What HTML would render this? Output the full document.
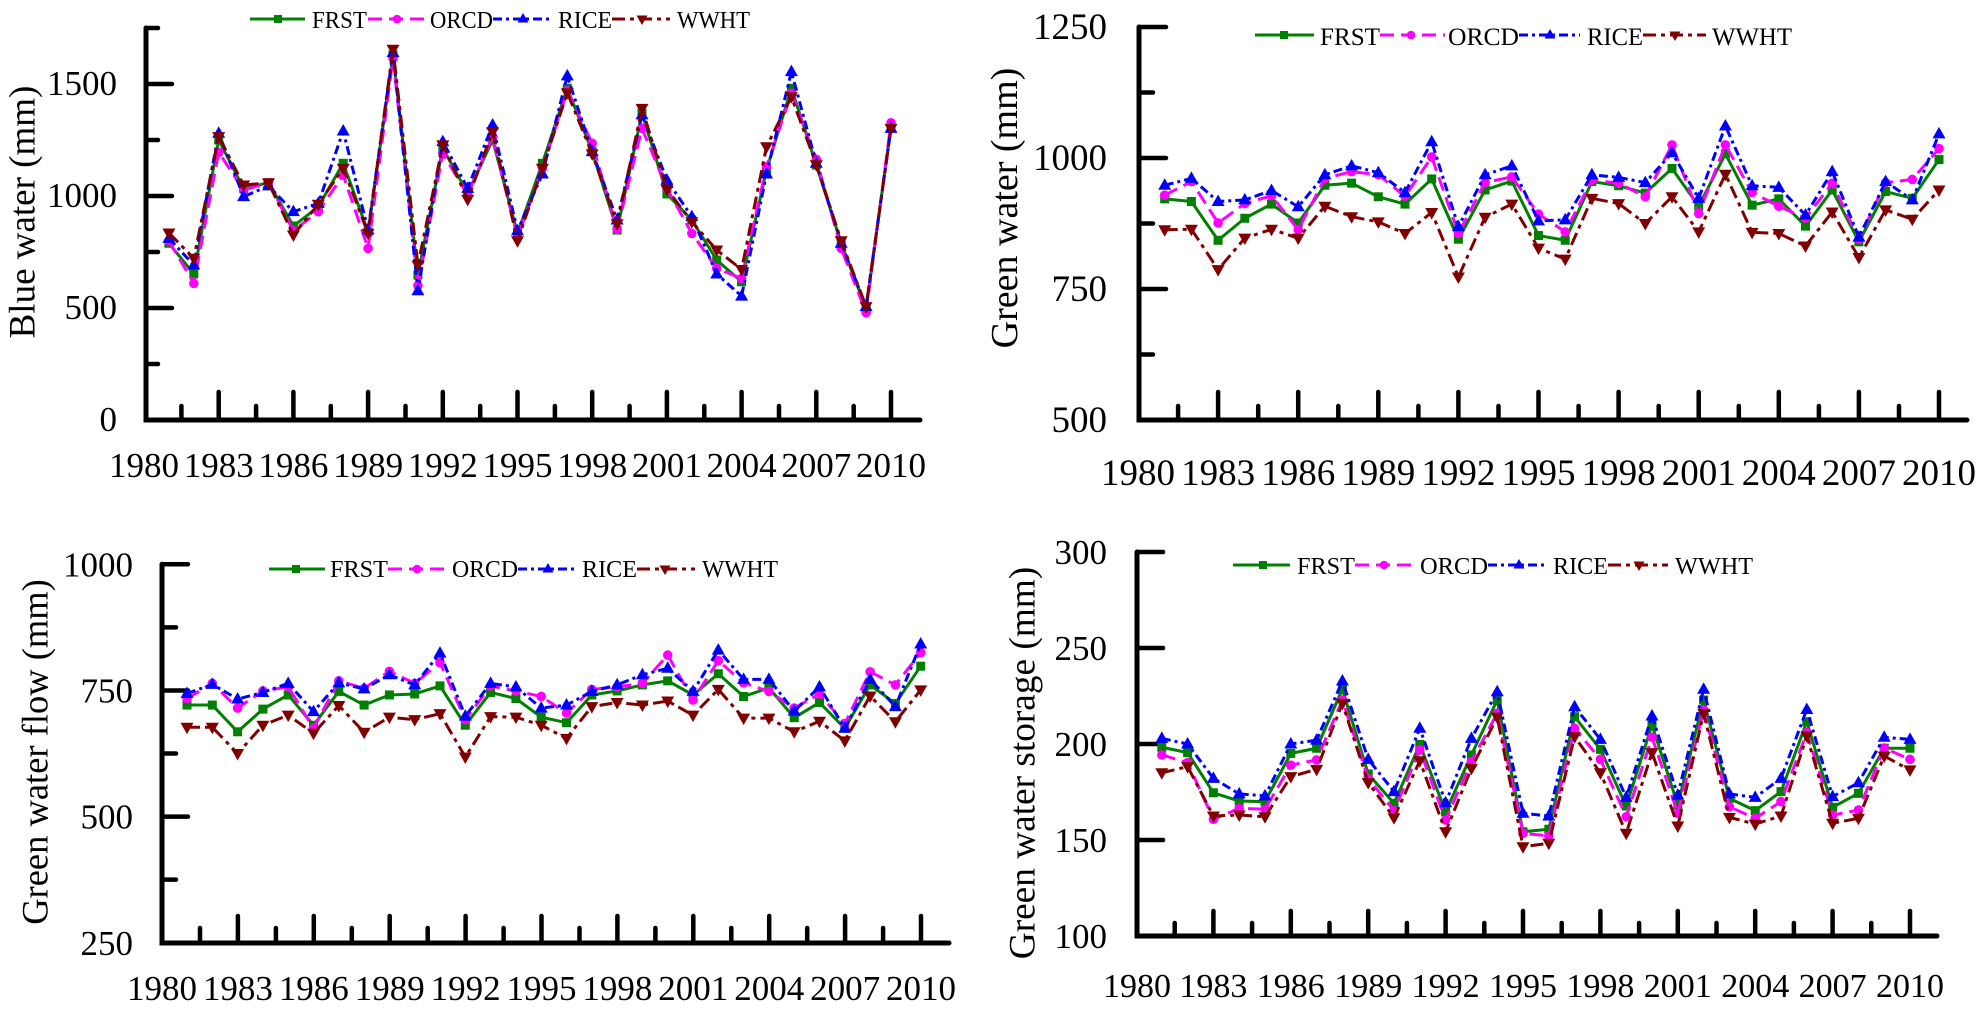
<!DOCTYPE html>
<html><head><meta charset="utf-8"><style>
body{margin:0;background:#fff}
svg{display:block}
.ax{fill:none;stroke:#000;stroke-width:5;stroke-linecap:round;stroke-linejoin:miter}
.tk{fill:none;stroke:#000;stroke-width:4.5;stroke-linecap:round}
.f{fill:none;stroke:#008000;stroke-width:3;stroke-linejoin:round}
.o{fill:none;stroke:#ff00ff;stroke-width:3;stroke-dasharray:14 7;stroke-linejoin:round}
.r{fill:none;stroke:#0000ff;stroke-width:3;stroke-dasharray:9 4 3 4;stroke-linejoin:round}
.w{fill:none;stroke:#800000;stroke-width:3;stroke-dasharray:13 5 4 5;stroke-linejoin:round}
.n{fill:none;stroke:none}
text{font-family:"Liberation Serif","Times New Roman",serif;fill:#000}
</style></head><body>
<svg width="1984" height="1012" viewBox="0 0 1984 1012">
<defs>
<marker id="s1" markerUnits="userSpaceOnUse" markerWidth="1" markerHeight="1" refX="0" refY="0" orient="0" overflow="visible"><g transform="scale(0.040161,-4.464286)"><rect x="-4.5" y="-4.5" width="9" height="9" fill="#008000"/></g></marker>
<marker id="c1" markerUnits="userSpaceOnUse" markerWidth="1" markerHeight="1" refX="0" refY="0" orient="0" overflow="visible"><g transform="scale(0.040161,-4.464286)"><circle r="4.8" fill="#ff00ff"/></g></marker>
<marker id="u1" markerUnits="userSpaceOnUse" markerWidth="1" markerHeight="1" refX="0" refY="0" orient="0" overflow="visible"><g transform="scale(0.040161,-4.464286)"><polygon points="0,-7 6.5,4.5 -6.5,4.5" fill="#0000ff"/></g></marker>
<marker id="d1" markerUnits="userSpaceOnUse" markerWidth="1" markerHeight="1" refX="0" refY="0" orient="0" overflow="visible"><g transform="scale(0.040161,-4.464286)"><polygon points="0,7 6.5,-4.5 -6.5,-4.5" fill="#800000"/></g></marker>

<marker id="s2" markerUnits="userSpaceOnUse" markerWidth="1" markerHeight="1" refX="0" refY="0" orient="0" overflow="visible"><g transform="scale(0.037453,-1.908397)"><rect x="-4.5" y="-4.5" width="9" height="9" fill="#008000"/></g></marker>
<marker id="c2" markerUnits="userSpaceOnUse" markerWidth="1" markerHeight="1" refX="0" refY="0" orient="0" overflow="visible"><g transform="scale(0.037453,-1.908397)"><circle r="4.8" fill="#ff00ff"/></g></marker>
<marker id="u2" markerUnits="userSpaceOnUse" markerWidth="1" markerHeight="1" refX="0" refY="0" orient="0" overflow="visible"><g transform="scale(0.037453,-1.908397)"><polygon points="0,-7 6.5,4.5 -6.5,4.5" fill="#0000ff"/></g></marker>
<marker id="d2" markerUnits="userSpaceOnUse" markerWidth="1" markerHeight="1" refX="0" refY="0" orient="0" overflow="visible"><g transform="scale(0.037453,-1.908397)"><polygon points="0,7 6.5,-4.5 -6.5,-4.5" fill="#800000"/></g></marker>

<marker id="s3" markerUnits="userSpaceOnUse" markerWidth="1" markerHeight="1" refX="0" refY="0" orient="0" overflow="visible"><g transform="scale(0.039526,-1.982161)"><rect x="-4.5" y="-4.5" width="9" height="9" fill="#008000"/></g></marker>
<marker id="c3" markerUnits="userSpaceOnUse" markerWidth="1" markerHeight="1" refX="0" refY="0" orient="0" overflow="visible"><g transform="scale(0.039526,-1.982161)"><circle r="4.8" fill="#ff00ff"/></g></marker>
<marker id="u3" markerUnits="userSpaceOnUse" markerWidth="1" markerHeight="1" refX="0" refY="0" orient="0" overflow="visible"><g transform="scale(0.039526,-1.982161)"><polygon points="0,-7 6.5,4.5 -6.5,4.5" fill="#0000ff"/></g></marker>
<marker id="d3" markerUnits="userSpaceOnUse" markerWidth="1" markerHeight="1" refX="0" refY="0" orient="0" overflow="visible"><g transform="scale(0.039526,-1.982161)"><polygon points="0,7 6.5,-4.5 -6.5,-4.5" fill="#800000"/></g></marker>

<marker id="s4" markerUnits="userSpaceOnUse" markerWidth="1" markerHeight="1" refX="0" refY="0" orient="0" overflow="visible"><g transform="scale(0.03876,-0.520833)"><rect x="-4.5" y="-4.5" width="9" height="9" fill="#008000"/></g></marker>
<marker id="c4" markerUnits="userSpaceOnUse" markerWidth="1" markerHeight="1" refX="0" refY="0" orient="0" overflow="visible"><g transform="scale(0.03876,-0.520833)"><circle r="4.8" fill="#ff00ff"/></g></marker>
<marker id="u4" markerUnits="userSpaceOnUse" markerWidth="1" markerHeight="1" refX="0" refY="0" orient="0" overflow="visible"><g transform="scale(0.03876,-0.520833)"><polygon points="0,-7 6.5,4.5 -6.5,4.5" fill="#0000ff"/></g></marker>
<marker id="d4" markerUnits="userSpaceOnUse" markerWidth="1" markerHeight="1" refX="0" refY="0" orient="0" overflow="visible"><g transform="scale(0.03876,-0.520833)"><polygon points="0,7 6.5,-4.5 -6.5,-4.5" fill="#800000"/></g></marker>
</defs>

<!-- ================= PANEL 1 : Blue water ================= -->
<path class="ax" d="M920,420 H146 V28"/>
<path class="tk" d="M146,308h26M146,196h26M146,84h26M146,364h12M146,252h12M146,140h12M146,28h12"/>
<path class="tk" d="M218.7,420v-28M293.4,420v-28M368.1,420v-28M442.8,420v-28M517.5,420v-28M592.2,420v-28M666.9,420v-28M741.6,420v-28M816.3,420v-28M891,420v-28
M181.4,420v-14M256.1,420v-14M330.8,420v-14M405.5,420v-14M480.2,420v-14M554.9,420v-14M629.6,420v-14M704.3,420v-14M779,420v-14M853.7,420v-14"/>
<g font-size="35" text-anchor="end">
<text x="117" y="431">0</text><text x="117" y="319">500</text><text x="117" y="207">1000</text><text x="117" y="95">1500</text>
</g>
<g font-size="35" text-anchor="middle">
<text x="144" y="477">1980</text><text x="218.7" y="477">1983</text><text x="293.4" y="477">1986</text><text x="368.1" y="477">1989</text><text x="442.8" y="477">1992</text><text x="517.5" y="477">1995</text><text x="592.2" y="477">1998</text><text x="666.9" y="477">2001</text><text x="741.6" y="477">2004</text><text x="816.3" y="477">2007</text><text x="891" y="477">2010</text>
</g>
<text font-size="37" text-anchor="middle" transform="translate(34.7,212) rotate(-90)">Blue water (mm)</text>

<g transform="translate(144,420) scale(24.9,-0.224)">
<polyline class="f" vector-effect="non-scaling-stroke" points="1,789 2,652 3,1250 4,1034 5,1059 6,866 7,952 8,1146 9,839 10,1630 11,647 12,1213 13,1012 14,1250 15,833 16,1146 17,1481 18,1198 19,848 20,1369 21,1009 22,893 23,714 24,617 25,1116 26,1481 27,1138 28,789 29,497 30,1310"/>
<polyline class="n" marker-start="url(#s1)" marker-mid="url(#s1)" marker-end="url(#s1)" points="1,789 2,652 3,1250 4,1034 5,1059 6,866 7,952 8,1146 9,839 10,1630 11,647 12,1213 13,1012 14,1250 15,833 16,1146 17,1481 18,1198 19,848 20,1369 21,1009 22,893 23,714 24,617 25,1116 26,1481 27,1138 28,789 29,497 30,1310"/>
<polyline class="o" vector-effect="non-scaling-stroke" points="1,800 2,610 3,1195 4,1027 5,1059 6,845 7,930 8,1094 9,766 10,1615 11,600 12,1190 13,1005 14,1265 15,815 16,1124 17,1470 18,1235 19,851 20,1302 21,1034 22,833 23,677 24,632 25,1131 26,1458 27,1164 28,766 29,479 30,1327"/>
<polyline class="n" marker-start="url(#c1)" marker-mid="url(#c1)" marker-end="url(#c1)" points="1,800 2,610 3,1195 4,1027 5,1059 6,845 7,930 8,1094 9,766 10,1615 11,600 12,1190 13,1005 14,1265 15,815 16,1124 17,1470 18,1235 19,851 20,1302 21,1034 22,833 23,677 24,632 25,1131 26,1458 27,1164 28,766 29,479 30,1327"/>
<polyline class="r" vector-effect="non-scaling-stroke" points="1,811 2,692 3,1280 4,997 5,1045 6,930 7,967 8,1290 9,848 10,1640 11,577 12,1243 13,1034 14,1317 15,845 16,1098 17,1536 18,1198 19,893 20,1362 21,1071 22,908 23,652 24,553 25,1098 26,1555 27,1146 28,789 29,506 30,1302"/>
<polyline class="n" marker-start="url(#u1)" marker-mid="url(#u1)" marker-end="url(#u1)" points="1,811 2,692 3,1280 4,997 5,1045 6,930 7,967 8,1290 9,848 10,1640 11,577 12,1243 13,1034 14,1317 15,845 16,1098 17,1536 18,1198 19,893 20,1362 21,1071 22,908 23,652 24,553 25,1098 26,1555 27,1146 28,789 29,506 30,1302"/>
<polyline class="w" vector-effect="non-scaling-stroke" points="1,835 2,722 3,1265 4,1049 5,1059 6,826 7,963 8,1124 9,833 10,1655 11,692 12,1228 13,985 14,1287 15,800 16,1124 17,1461 18,1188 19,876 20,1391 21,1030 22,885 23,759 24,672 25,1220 26,1443 27,1140 28,800 29,506 30,1302"/>
<polyline class="n" marker-start="url(#d1)" marker-mid="url(#d1)" marker-end="url(#d1)" points="1,835 2,722 3,1265 4,1049 5,1059 6,826 7,963 8,1124 9,833 10,1655 11,692 12,1228 13,985 14,1287 15,800 16,1124 17,1461 18,1188 19,876 20,1391 21,1030 22,885 23,759 24,672 25,1220 26,1443 27,1140 28,800 29,506 30,1302"/>
</g>
<!-- legend 1 -->
<g>
<path class="f" d="M250,19H305"/><rect x="274" y="15" width="8" height="8" fill="#008000"/>
<text x="312" y="28" font-size="24" textLength="55" lengthAdjust="spacingAndGlyphs">FRST</text>
<path class="o" d="M368,19H428"/><circle cx="397" cy="19" r="4.3" fill="#ff00ff"/>
<text x="430" y="28" font-size="24" textLength="63" lengthAdjust="spacingAndGlyphs">ORCD</text>
<path class="r" d="M493,19H552"/><polygon points="523,13 528.5,22.5 517.5,22.5" fill="#0000ff"/>
<text x="558" y="28" font-size="24" textLength="54" lengthAdjust="spacingAndGlyphs">RICE</text>
<path class="w" d="M612,19H670"/><polygon points="642,25 647.5,15.5 636.5,15.5" fill="#800000"/>
<text x="677" y="28" font-size="24" textLength="73" lengthAdjust="spacingAndGlyphs">WWHT</text>
</g>

<!-- ================= PANEL 2 : Green water ================= -->
<path class="ax" d="M1967,420 H1139 V27"/>
<path class="tk" d="M1139,289h27M1139,158h27M1139,27h27M1139,354.5h14M1139,223.5h14M1139,92.5h14"/>
<path class="tk" d="M1218.1,420v-28M1298.2,420v-28M1378.3,420v-28M1458.4,420v-28M1538.5,420v-28M1618.6,420v-28M1698.7,420v-28M1778.8,420v-28M1858.9,420v-28M1939,420v-28
M1178.1,420v-14M1258.2,420v-14M1338.3,420v-14M1418.4,420v-14M1498.5,420v-14M1578.6,420v-14M1658.7,420v-14M1738.8,420v-14M1818.9,420v-14M1899,420v-14"/>
<g font-size="37" text-anchor="end">
<text x="1107" y="432">500</text><text x="1107" y="301">750</text><text x="1107" y="170">1000</text><text x="1107" y="39">1250</text>
</g>
<g font-size="37" text-anchor="middle">
<text x="1138" y="485">1980</text><text x="1218.1" y="485">1983</text><text x="1298.2" y="485">1986</text><text x="1378.3" y="485">1989</text><text x="1458.4" y="485">1992</text><text x="1538.5" y="485">1995</text><text x="1618.6" y="485">1998</text><text x="1698.7" y="485">2001</text><text x="1778.8" y="485">2004</text><text x="1858.9" y="485">2007</text><text x="1939" y="485">2010</text>
</g>
<text font-size="38" text-anchor="middle" transform="translate(1017,208) rotate(-90)">Green water (mm)</text>

<g transform="translate(1138,682) scale(26.7,-0.524)">
<polyline class="f" vector-effect="non-scaling-stroke" points="1,922 2,917 3,843 4,885 5,912 6,876 7,948 8,952 9,926 10,912 11,960 12,845 13,939 14,956 15,852 16,843 17,955 18,947 19,933 20,980 21,908 22,1008 23,910 24,922 25,870 26,939 27,840 28,936 29,923 30,997"/>
<polyline class="n" marker-start="url(#s2)" marker-mid="url(#s2)" marker-end="url(#s2)" points="1,922 2,917 3,843 4,885 5,912 6,876 7,948 8,952 9,926 10,912 11,960 12,845 13,939 14,956 15,852 16,843 17,955 18,947 19,933 20,980 21,908 22,1008 23,910 24,922 25,870 26,939 27,840 28,936 29,923 30,997"/>
<polyline class="o" vector-effect="non-scaling-stroke" points="1,929 2,955 3,876 4,913 5,928 6,863 7,961 8,974 9,968 10,927 11,1002 12,856 13,953 14,964 15,893 16,859 17,958 18,952 19,926 20,1025 21,894 22,1025 23,934 24,908 25,885 26,952 27,845 28,953 29,959 30,1018"/>
<polyline class="n" marker-start="url(#c2)" marker-mid="url(#c2)" marker-end="url(#c2)" points="1,929 2,955 3,876 4,913 5,928 6,863 7,961 8,974 9,968 10,927 11,1002 12,856 13,953 14,964 15,893 16,859 17,958 18,952 19,926 20,1025 21,894 22,1025 23,934 24,908 25,885 26,952 27,845 28,953 29,959 30,1018"/>
<polyline class="r" vector-effect="non-scaling-stroke" points="1,948 2,961 3,917 4,920 5,938 6,907 7,968 8,985 9,972 10,934 11,1031 12,869 13,968 14,985 15,880 16,882 17,968 18,963 19,953 20,1010 21,923 22,1061 23,947 24,944 25,891 26,974 27,849 28,955 29,920 30,1046"/>
<polyline class="n" marker-start="url(#u2)" marker-mid="url(#u2)" marker-end="url(#u2)" points="1,948 2,961 3,917 4,920 5,938 6,907 7,968 8,985 9,972 10,934 11,1031 12,869 13,968 14,985 15,880 16,882 17,968 18,963 19,953 20,1010 21,923 22,1061 23,947 24,944 25,891 26,974 27,849 28,955 29,920 30,1046"/>
<polyline class="w" vector-effect="non-scaling-stroke" points="1,863 2,864 3,787 4,847 5,864 6,847 7,908 8,888 9,878 10,856 11,896 12,773 13,887 14,912 15,828 16,807 17,923 18,913 19,875 20,926 21,859 22,969 23,858 24,856 25,832 26,897 27,810 28,901 29,883 30,939"/>
<polyline class="n" marker-start="url(#d2)" marker-mid="url(#d2)" marker-end="url(#d2)" points="1,863 2,864 3,787 4,847 5,864 6,847 7,908 8,888 9,878 10,856 11,896 12,773 13,887 14,912 15,828 16,807 17,923 18,913 19,875 20,926 21,859 22,969 23,858 24,856 25,832 26,897 27,810 28,901 29,883 30,939"/>
</g>
<g>
<path class="f" d="M1255,35H1314"/><rect x="1280" y="31" width="8" height="8" fill="#008000"/>
<text x="1320" y="45" font-size="25" textLength="60" lengthAdjust="spacingAndGlyphs">FRST</text>
<path class="o" d="M1380,35H1445"/><circle cx="1411" cy="35" r="4.3" fill="#ff00ff"/>
<text x="1448" y="45" font-size="25" textLength="71" lengthAdjust="spacingAndGlyphs">ORCD</text>
<path class="r" d="M1519,35H1580"/><polygon points="1550,29 1555.5,38.5 1544.5,38.5" fill="#0000ff"/>
<text x="1587" y="45" font-size="25" textLength="56" lengthAdjust="spacingAndGlyphs">RICE</text>
<path class="w" d="M1643,35H1706"/><polygon points="1675,41 1680.5,31.5 1669.5,31.5" fill="#800000"/>
<text x="1712" y="45" font-size="25" textLength="80" lengthAdjust="spacingAndGlyphs">WWHT</text>
</g>

<!-- ================= PANEL 3 : Green water flow ================= -->
<path class="ax" d="M949,943 H162 V564.3"/>
<path class="tk" d="M162,816.6h26M162,690.5h26M162,564.3h26M162,879.6h14M162,753.5h14M162,627.4h14"/>
<path class="tk" d="M237.9,943v-27M313.8,943v-27M389.7,943v-27M465.6,943v-27M541.5,943v-27M617.4,943v-27M693.3,943v-27M769.2,943v-27M845.1,943v-27M921,943v-27
M200,943v-15M275.9,943v-15M351.8,943v-15M427.7,943v-15M503.6,943v-15M579.5,943v-15M655.4,943v-15M731.3,943v-15M807.2,943v-15M883.1,943v-15"/>
<g font-size="35" text-anchor="end">
<text x="133" y="955">250</text><text x="133" y="828.6">500</text><text x="133" y="702.5">750</text><text x="133" y="576.3">1000</text>
</g>
<g font-size="35" text-anchor="middle">
<text x="162" y="1000">1980</text><text x="237.9" y="1000">1983</text><text x="313.8" y="1000">1986</text><text x="389.7" y="1000">1989</text><text x="465.6" y="1000">1992</text><text x="541.5" y="1000">1995</text><text x="617.4" y="1000">1998</text><text x="693.3" y="1000">2001</text><text x="769.2" y="1000">2004</text><text x="845.1" y="1000">2007</text><text x="921" y="1000">2010</text>
</g>
<text font-size="36.5" text-anchor="middle" transform="translate(47.5,752) rotate(-90)">Green water flow (mm)</text>

<g transform="translate(161.7,1068.8) scale(25.3,-0.5045)">
<polyline class="f" vector-effect="non-scaling-stroke" points="1,721 2,721 3,668 4,713 5,741 6,681 7,748 8,721 9,741 10,743 11,759 12,681 13,746 14,734 15,697 16,686 17,741 18,749 19,761 20,769 21,741 22,783 23,738 24,755 25,696 26,726 27,675 28,761 29,724 30,798"/>
<polyline class="n" marker-start="url(#s3)" marker-mid="url(#s3)" marker-end="url(#s3)" points="1,721 2,721 3,668 4,713 5,741 6,681 7,748 8,721 9,741 10,743 11,759 12,681 13,746 14,734 15,697 16,686 17,741 18,749 19,761 20,769 21,741 22,783 23,738 24,755 25,696 26,726 27,675 28,761 29,724 30,798"/>
<polyline class="o" vector-effect="non-scaling-stroke" points="1,734 2,764 3,715 4,749 5,757 6,675 7,769 8,754 9,788 10,764 11,805 12,692 13,759 14,749 15,738 16,705 17,752 18,757 19,764 20,820 21,731 22,809 23,765 24,748 25,715 26,743 27,684 28,787 29,761 30,825"/>
<polyline class="n" marker-start="url(#c3)" marker-mid="url(#c3)" marker-end="url(#c3)" points="1,734 2,764 3,715 4,749 5,757 6,675 7,769 8,754 9,788 10,764 11,805 12,692 13,759 14,749 15,738 16,705 17,752 18,757 19,764 20,820 21,731 22,809 23,765 24,748 25,715 26,743 27,684 28,787 29,761 30,825"/>
<polyline class="r" vector-effect="non-scaling-stroke" points="1,744 2,762 3,733 4,746 5,764 6,708 7,765 8,753 9,781 10,761 11,824 12,699 13,764 14,757 15,715 16,721 17,748 18,761 19,781 20,794 21,748 22,830 23,772 24,772 25,709 26,757 27,675 28,772 29,718 30,842"/>
<polyline class="n" marker-start="url(#u3)" marker-mid="url(#u3)" marker-end="url(#u3)" points="1,744 2,762 3,733 4,746 5,764 6,708 7,765 8,753 9,781 10,761 11,824 12,699 13,764 14,757 15,715 16,721 17,748 18,761 19,781 20,794 21,748 22,830 23,772 24,772 25,709 26,757 27,675 28,772 29,718 30,842"/>
<polyline class="w" vector-effect="non-scaling-stroke" points="1,677 2,677 3,625 4,681 5,701 6,665 7,720 8,667 9,697 10,692 11,704 12,618 13,698 14,697 15,681 16,655 17,718 18,726 19,721 20,729 21,701 22,752 23,695 24,695 25,668 26,689 27,650 28,739 29,688 30,751"/>
<polyline class="n" marker-start="url(#d3)" marker-mid="url(#d3)" marker-end="url(#d3)" points="1,677 2,677 3,625 4,681 5,701 6,665 7,720 8,667 9,697 10,692 11,704 12,618 13,698 14,697 15,681 16,655 17,718 18,726 19,721 20,729 21,701 22,752 23,695 24,695 25,668 26,689 27,650 28,739 29,688 30,751"/>
</g>
<g>
<path class="f" d="M269,569H325"/><rect x="292" y="565" width="8" height="8" fill="#008000"/>
<text x="330" y="577" font-size="24" textLength="58" lengthAdjust="spacingAndGlyphs">FRST</text>
<path class="o" d="M388,569H447"/><circle cx="417" cy="569" r="4.3" fill="#ff00ff"/>
<text x="452" y="577" font-size="24" textLength="66" lengthAdjust="spacingAndGlyphs">ORCD</text>
<path class="r" d="M518,569H577"/><polygon points="548,563 553.5,572.5 542.5,572.5" fill="#0000ff"/>
<text x="582" y="577" font-size="24" textLength="55" lengthAdjust="spacingAndGlyphs">RICE</text>
<path class="w" d="M637,569H695"/><polygon points="665,575 670.5,565.5 659.5,565.5" fill="#800000"/>
<text x="702" y="577" font-size="24" textLength="76" lengthAdjust="spacingAndGlyphs">WWHT</text>
</g>

<!-- ================= PANEL 4 : Green water storage ================= -->
<path class="ax" d="M1937,936 H1137 V552"/>
<path class="tk" d="M1137,840h26M1137,744h26M1137,648h26M1137,552h26"/>
<path class="tk" d="M1213.4,936v-25M1290.8,936v-25M1368.2,936v-25M1445.6,936v-25M1523,936v-25M1600.4,936v-25M1677.8,936v-25M1755.2,936v-25M1832.6,936v-25M1910,936v-25
M1174.7,936v-13M1252.1,936v-13M1329.5,936v-13M1406.9,936v-13M1484.3,936v-13M1561.7,936v-13M1639.1,936v-13M1716.5,936v-13M1793.9,936v-13M1871.3,936v-13"/>
<g font-size="35" text-anchor="end">
<text x="1107" y="948">100</text><text x="1107" y="852">150</text><text x="1107" y="756">200</text><text x="1107" y="660">250</text><text x="1107" y="564">300</text>
</g>
<g font-size="34" text-anchor="middle">
<text x="1137" y="997">1980</text><text x="1213.4" y="997">1983</text><text x="1290.8" y="997">1986</text><text x="1368.2" y="997">1989</text><text x="1445.6" y="997">1992</text><text x="1523" y="997">1995</text><text x="1600.4" y="997">1998</text><text x="1677.8" y="997">2001</text><text x="1755.2" y="997">2004</text><text x="1832.6" y="997">2007</text><text x="1910" y="997">2010</text>
</g>
<text font-size="37.3" text-anchor="middle" transform="translate(1034.5,763) rotate(-90)">Green water storage (mm)</text>

<g transform="translate(1136,1128) scale(25.8,-1.92)">
<polyline class="f" vector-effect="non-scaling-stroke" points="1,198.3 2,195.5 3,174.6 4,170.3 5,170 6,195.1 7,197.8 8,228.6 9,184.4 10,169.1 11,199.8 12,164.7 13,194.3 14,222.9 15,154.3 16,155.6 17,214.2 18,197.2 19,167.7 20,209.9 21,168.2 22,222.9 23,171.7 24,165.3 25,175.2 26,211.6 27,167 28,174.3 29,197.8 30,197.8"/>
<polyline class="n" marker-start="url(#s4)" marker-mid="url(#s4)" marker-end="url(#s4)" points="1,198.3 2,195.5 3,174.6 4,170.3 5,170 6,195.1 7,197.8 8,228.6 9,184.4 10,169.1 11,199.8 12,164.7 13,194.3 14,222.9 15,154.3 16,155.6 17,214.2 18,197.2 19,167.7 20,209.9 21,168.2 22,222.9 23,171.7 24,165.3 25,175.2 26,211.6 27,167 28,174.3 29,197.8 30,197.8"/>
<polyline class="o" vector-effect="non-scaling-stroke" points="1,194.3 2,190.3 3,160.8 4,166.5 5,166 6,189 7,191.7 8,222.9 9,182 10,165.3 11,196.9 12,160.4 13,190.8 14,216 15,153.5 16,152.1 17,208.2 18,192 19,162.1 20,203.5 21,163.9 22,217.7 23,167.3 24,161.3 25,170 26,205.9 27,163 28,165.6 29,197.9 30,192"/>
<polyline class="n" marker-start="url(#c4)" marker-mid="url(#c4)" marker-end="url(#c4)" points="1,194.3 2,190.3 3,160.8 4,166.5 5,166 6,189 7,191.7 8,222.9 9,182 10,165.3 11,196.9 12,160.4 13,190.8 14,216 15,153.5 16,152.1 17,208.2 18,192 19,162.1 20,203.5 21,163.9 22,217.7 23,167.3 24,161.3 25,170 26,205.9 27,163 28,165.6 29,197.9 30,192"/>
<polyline class="r" vector-effect="non-scaling-stroke" points="1,202.9 2,200 3,182.1 4,174 5,173 6,200 7,202 8,232.8 9,192 10,175.2 11,208.2 12,169.4 13,202.9 14,227.2 15,163.9 16,162.5 17,219.4 18,202.4 19,172.2 20,214.6 21,173.4 22,228.5 23,174 24,172.2 25,182.1 26,218 27,172.6 28,179.8 29,203.5 30,202.4"/>
<polyline class="n" marker-start="url(#u4)" marker-mid="url(#u4)" marker-end="url(#u4)" points="1,202.9 2,200 3,182.1 4,174 5,173 6,200 7,202 8,232.8 9,192 10,175.2 11,208.2 12,169.4 13,202.9 14,227.2 15,163.9 16,162.5 17,219.4 18,202.4 19,172.2 20,214.6 21,173.4 22,228.5 23,174 24,172.2 25,182.1 26,218 27,172.6 28,179.8 29,203.5 30,202.4"/>
<polyline class="w" vector-effect="non-scaling-stroke" points="1,185 2,188.2 3,162.5 4,163 5,162.1 6,183 7,186.8 8,221.2 9,179.9 10,161.6 11,191.3 12,154.3 13,187.3 14,214 15,146.5 16,148.3 17,203.8 18,185 19,153.5 20,195.5 21,157.3 22,216 23,161.8 24,158.3 25,162.5 26,204.2 27,158.7 28,161.3 29,193.7 30,186.5"/>
<polyline class="n" marker-start="url(#d4)" marker-mid="url(#d4)" marker-end="url(#d4)" points="1,185 2,188.2 3,162.5 4,163 5,162.1 6,183 7,186.8 8,221.2 9,179.9 10,161.6 11,191.3 12,154.3 13,187.3 14,214 15,146.5 16,148.3 17,203.8 18,185 19,153.5 20,195.5 21,157.3 22,216 23,161.8 24,158.3 25,162.5 26,204.2 27,158.7 28,161.3 29,193.7 30,186.5"/>
</g>
<g>
<path class="f" d="M1233,565H1290"/><rect x="1259" y="561" width="8" height="8" fill="#008000"/>
<text x="1297" y="574" font-size="24" textLength="58" lengthAdjust="spacingAndGlyphs">FRST</text>
<path class="o" d="M1355,565H1414"/><circle cx="1384" cy="565" r="4.3" fill="#ff00ff"/>
<text x="1420" y="574" font-size="24" textLength="68" lengthAdjust="spacingAndGlyphs">ORCD</text>
<path class="r" d="M1488,565H1548"/><polygon points="1519,559 1524.5,568.5 1513.5,568.5" fill="#0000ff"/>
<text x="1553" y="574" font-size="24" textLength="55" lengthAdjust="spacingAndGlyphs">RICE</text>
<path class="w" d="M1608,565H1668"/><polygon points="1639,571 1644.5,561.5 1633.5,561.5" fill="#800000"/>
<text x="1675" y="574" font-size="24" textLength="78" lengthAdjust="spacingAndGlyphs">WWHT</text>
</g>
</svg>
</body></html>
